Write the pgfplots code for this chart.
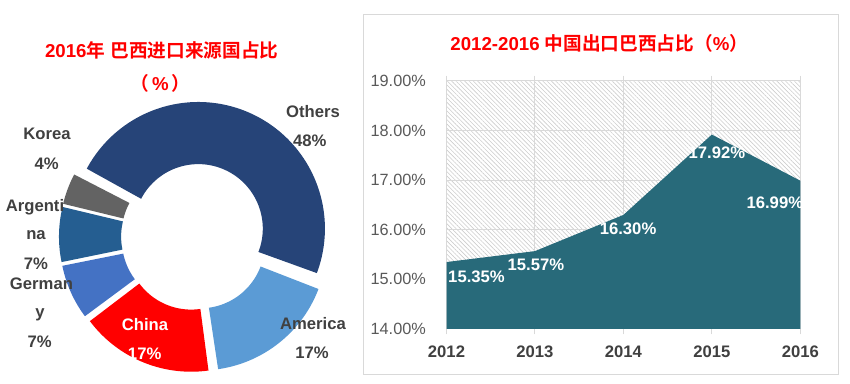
\documentclass[border=0pt]{standalone}
\usepackage{pgfplots}
\pgfplotsset{compat=1.18}
\usepackage{pgfplotstable}
\usetikzlibrary{patterns.meta}
\usepackage{fontspec}
\setmainfont{Liberation Sans}
\newfontfamily\cjk{Noto Sans CJK SC}[BoldFont={* Bold}]
\definecolor{cOthers}{HTML}{264478}
\definecolor{cAmerica}{HTML}{5B9BD5}
\definecolor{cChina}{HTML}{FF0000}
\definecolor{cGermany}{HTML}{4472C4}
\definecolor{cArgentina}{HTML}{255E91}
\definecolor{cKorea}{HTML}{636363}
\definecolor{areacol}{HTML}{286A7A}
\definecolor{gridgray}{HTML}{D9D9D9}
\definecolor{hatchgray}{HTML}{CDCDCD}
\definecolor{labdark}{HTML}{404040}
\definecolor{ticklab}{HTML}{595959}
\definecolor{titlered}{HTML}{FF0000}
\newcommand\lab{\bfseries\fontsize{12.5}{15}\selectfont}
\newcommand\ttl{\bfseries\fontsize{14}{17}\selectfont}

% share of Chinese exports going to Brazil (%), 2012-2016
\pgfplotstableread{
x y dx dy
2012 15.35 22.5 -11.25
2013 15.57 0.75 -10.5
2014 16.30 3.5 -10.5
2015 17.92 3.75 -13.8
2016 16.99 -19.1 -16.7
}\labtab

\begin{document}
\begin{tikzpicture}
\useasboundingbox (0,0) rectangle (637.5pt,288pt);
\draw[gridgray, line width=0.75pt] (272.25pt,6.75pt) rectangle (628.5pt,276.75pt);

% ---- donut: 2016 Brazil import sources ----
% shares: Others 48, America 17, China 17, Germany 7, Argentina 7, Korea 4 (%)
% slice boundaries in degrees (clockwise from 152): 152, -20.8, -82, -143.2, -168.4, -193.6, -208
\begin{axis}[at={(145.95pt,110.4pt)}, anchor=center, x=0.75pt, y=0.75pt,
  xmin=-150, xmax=150, ymin=-150, ymax=150, hide axis, clip=false,
  every axis plot/.append style={line width=46.6pt, line join=round, samples=90, line cap=butt}]
\addplot[draw=cOthers,    domain=-20.8:152]     ({9*cos(65.6)+95.55*cos(x)},{9*sin(65.6)+95.55*sin(x)});
\addplot[draw=cAmerica,   domain=-82:-20.8]     ({9*cos(-51.4)+95.55*cos(x)},{9*sin(-51.4)+95.55*sin(x)});
\addplot[draw=cChina,     domain=-143.2:-82]    ({9*cos(-112.6)+95.55*cos(x)},{9*sin(-112.6)+95.55*sin(x)});
\addplot[draw=cGermany,   domain=-168.4:-143.2] ({9*cos(-155.8)+95.55*cos(x)},{9*sin(-155.8)+95.55*sin(x)});
\addplot[draw=cArgentina, domain=-193.6:-168.4] ({9*cos(-181)+95.55*cos(x)},{9*sin(-181)+95.55*sin(x)});
\addplot[draw=cKorea,     domain=-208:-193.6]   ({9*cos(-200.8)+95.55*cos(x)},{9*sin(-200.8)+95.55*sin(x)});
\end{axis}

% donut labels
\begin{scope}[every node/.style={anchor=base, inner sep=0pt, font=\lab, text=labdark}]
\node at (234.75pt,200.0pt) {Others};
\node at (232.35pt,178.0pt) {48\%};
\node at (35.25pt,183.0pt) {Korea};
\node at (35.0pt,161.0pt) {4\%};
\node at (26.25pt,129.4pt) {Argenti};
\node at (27.0pt,108.0pt) {na};
\node at (27.0pt,86.0pt) {7\%};
\node at (31.1pt,71.0pt) {German};
\node at (30.0pt,49.8pt) {y};
\node at (29.8pt,27.2pt) {7\%};
\node[text=white] at (108.75pt,39.75pt) {China};
\node[text=white] at (108.5pt,18.0pt) {17\%};
\node at (234.75pt,41.0pt) {America};
\node at (234.0pt,18.75pt) {17\%};
\end{scope}

% titles
\node[anchor=base, inner sep=0pt, font=\ttl, text=titlered] at (121.3pt,245.0pt) {2016{\cjk 年} {\cjk 巴西进口来源国占比}};
\node[anchor=base, inner sep=0pt, font=\ttl, text=titlered] at (120.4pt,220.0pt) {{\cjk （}\,\%\,{\cjk ）}};
\node[anchor=base, inner sep=0pt, font=\ttl, text=titlered] at (449.5pt,249.75pt) {2012-2016 {\cjk 中国出口巴西占比（}\%{\cjk ）}};

% ---- area chart ----
\begin{axis}[at={(334.875pt,41.25pt)}, anchor=south west, scale only axis,
  width=265.35pt, height=186pt,
  xmin=2012, xmax=2016, ymin=14, ymax=19,
  xtick={2012,2013,2014,2015,2016}, xticklabels={2012,2013,2014,2015,2016},
  ytick={14,15,16,17,18,19},
  yticklabels={14.00\%,15.00\%,16.00\%,17.00\%,18.00\%,19.00\%},
  grid=major, grid style={gridgray, line width=0.75pt},
  axis line style={gridgray, line width=0.75pt},
  tick align=outside, major tick length=4pt,
  xtick style={gridgray, line width=0.75pt}, ytick style={draw=none},
  xticklabel style={font=\bfseries\fontsize{12.5}{15}\selectfont, text=labdark, yshift=-5pt},
  yticklabel style={font=\fontsize{12.2}{14}\selectfont, text=ticklab, xshift=-8pt},
  axis background/.style={pattern={Lines[angle=-45,distance=2.3pt,line width=0.45pt]}, pattern color=hatchgray},
]
\addplot[fill=areacol, draw=none] coordinates {(2012,15.35) (2013,15.57) (2014,16.30) (2015,17.92) (2016,16.99)} \closedcycle;
\addplot[draw=none, mark=none, point meta=y,
  visualization depends on={\thisrow{dx}\as\dxv},
  visualization depends on={\thisrow{dy}\as\dyv},
  nodes near coords={\pgfmathprintnumber[fixed,fixed zerofill,precision=2,assume math mode=true]{\pgfplotspointmeta}\%},
  every node near coord/.append style={anchor=center, xshift={\dxv pt}, yshift={\dyv pt}, text=white, font=\lab}]
  table[x=x, y=y] {\labtab};
\end{axis}
\end{tikzpicture}
\end{document}
